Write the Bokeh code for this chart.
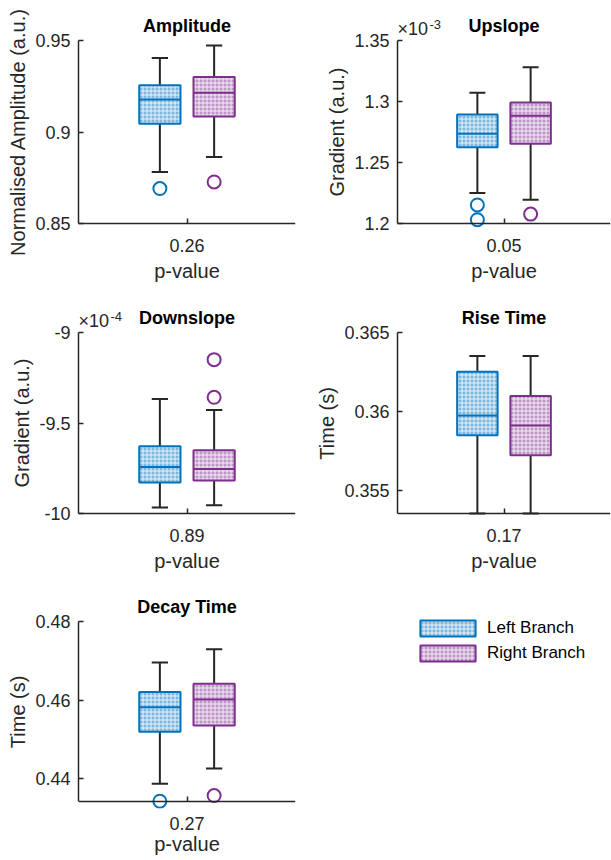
from bokeh.plotting import figure
from bokeh.layouts import gridplot
from bokeh.models import Range1d, FixedTicker, Legend, LegendItem, Title, LinearAxis
from bokeh.core.properties import value
from bokeh.embed import file_html
from bokeh.resources import INLINE

FONT = "Liberation Sans"
BLUE = "#0072BD"
PURPLE = "#7E2F8E"
DARK = "#262626"

# ---------------- data ----------------
titles = ["Amplitude", "Upslope", "Downslope", "Rise Time", "Decay Time"]
ylabels = ["Normalised Amplitude (a.u.)", "Gradient (a.u.)", "Gradient (a.u.)", "Time (s)", "Time (s)"]
p_values = ["0.26", "0.05", "0.89", "0.17", "0.27"]
series_names = ["Left Branch", "Right Branch"]

# five-number summaries: [lower whisker, Q1, median, Q3, upper whisker]
amp_left = [0.8782, 0.9045, 0.9178, 0.9255, 0.9405]
amp_right = [0.8864, 0.9085, 0.9215, 0.9300, 0.9473]
amp_left_out = [0.8691]
amp_right_out = [0.8727]

up_left = [1.2251, 1.2626, 1.2735, 1.2893, 1.3071]      # x 1e-3
up_right = [1.2194, 1.2653, 1.2883, 1.2992, 1.3281]
up_left_out = [1.2152, 1.2031]
up_right_out = [1.2077]

down_left = [-9.967, -9.829, -9.743, -9.629, -9.367]    # x 1e-4
down_right = [-9.954, -9.817, -9.754, -9.651, -9.428]
down_left_out = []
down_right_out = [-9.150, -9.358]

rise_left = [0.35358, 0.35851, 0.35977, 0.36253, 0.36352]
rise_right = [0.35358, 0.35726, 0.35914, 0.36100, 0.36352]
rise_left_out = []
rise_right_out = []

decay_left = [0.43874, 0.45196, 0.45819, 0.46206, 0.46956]
decay_right = [0.44261, 0.45356, 0.46013, 0.46417, 0.47293]
decay_left_out = [0.43427]
decay_right_out = [0.43571]

y_ranges = [(0.85, 0.95), (1.2, 1.35), (-10.0, -9.0), (0.35358, 0.365), (0.4342, 0.48)]
y_ticks = [[0.85, 0.9, 0.95], [1.2, 1.25, 1.3, 1.35], [-10, -9.5, -9],
           [0.355, 0.36, 0.365], [0.44, 0.46, 0.48]]
y_tick_labels = [["0.85", "0.9", "0.95"], ["1.2", "1.25", "1.3", "1.35"], ["-10", "-9.5", "-9"],
                 ["0.355", "0.36", "0.365"], ["0.44", "0.46", "0.48"]]
exponents = [None, "-3", "-4", None, None]

summaries = [(amp_left, amp_right), (up_left, up_right), (down_left, down_right),
             (rise_left, rise_right), (decay_left, decay_right)]
outliers = [(amp_left_out, amp_right_out), (up_left_out, up_right_out),
            (down_left_out, down_right_out), (rise_left_out, rise_right_out),
            (decay_left_out, decay_right_out)]

# ---------------- style / geometry ----------------
positions = [0.875, 1.125]
colors = [BLUE, PURPLE]
BOX_W = 0.19
CAP_W = 0.075
EXT_PX = 32          # frame space above the data area for title / exponent
BOT_PX = 7           # frame space below the x axis line (markers on the axis stay whole)
YLAB_SIZE = 20

# Arial/Liberation Sans advance widths (1/1000 em), used to centre the y labels on the data area
ARIAL_W = {"N": 722, "o": 556, "r": 333, "m": 833, "a": 556, "l": 222, "i": 222, "s": 500,
           "e": 556, "d": 556, " ": 278, "A": 667, "p": 556, "t": 278, "u": 556, "(": 333,
           ".": 278, ")": 333, "G": 778, "n": 556, "T": 611}


def text_len(s, size):
    return sum(ARIAL_W.get(ch, 556) for ch in s) * size / 1000.0


def box_style(color):
    return dict(fill_color=color, fill_alpha=0.5, hatch_pattern="+", hatch_color="white",
                hatch_alpha=0.8, hatch_scale=4, hatch_weight=1,
                line_color=color, line_width=2)


def style_axis(ax):
    ax.axis_line_color = DARK
    ax.axis_line_width = 1.5
    ax.major_tick_line_color = DARK
    ax.major_tick_line_width = 1.5
    ax.major_tick_in = 5
    ax.major_tick_out = 0
    ax.minor_tick_line_color = None
    ax.major_label_text_font = FONT
    ax.major_label_text_font_size = "18px"
    ax.major_label_text_color = DARK
    ax.axis_label_text_font = FONT
    ax.axis_label_text_font_size = "%dpx" % YLAB_SIZE
    ax.axis_label_text_font_style = "normal"
    ax.axis_label_text_color = DARK


def make_panel(i, width, height, bl, br, bt, bb, data_h, tick_sd, lab_sd):
    y0, y1 = y_ranges[i]
    dpp = (y1 - y0) / data_h
    p = figure(width=width, height=height, x_range=Range1d(0.5, 1.5),
               y_range=Range1d(y0 - BOT_PX * dpp, y1 + EXT_PX * dpp), output_backend="svg",
               toolbar_location=None,
               min_border_left=bl, min_border_right=br, min_border_top=bt, min_border_bottom=bb)
    p.outline_line_color = None
    p.grid.visible = False

    # x axis line + tick, fixed at the bottom of the data area
    xa = p.xaxis[0]
    style_axis(xa)
    xa.fixed_location = y0
    xa.ticker = FixedTicker(ticks=[1])
    xa.major_label_text_color = None
    xa.axis_label = None

    # x axis texts (p-value), in the panel below the frame
    xl = LinearAxis(ticker=FixedTicker(ticks=[1]), axis_label="p-value")
    style_axis(xl)
    xl.axis_line_color = None
    xl.major_tick_line_color = None
    xl.major_label_overrides = {1: p_values[i]}
    xl.major_label_standoff = tick_sd
    xl.axis_label_standoff = lab_sd
    p.add_layout(xl, "below")

    ya = p.yaxis[0]
    style_axis(ya)
    ya.bounds = (y0, y1)
    ya.ticker = FixedTicker(ticks=y_ticks[i])
    ya.major_label_overrides = {t: s for t, s in zip(y_ticks[i], y_tick_labels[i])}
    ya.major_label_standoff = 8

    # y label, centred on the data area (not on the extended frame)
    off = BOT_PX + (data_h - text_len(ylabels[i], YLAB_SIZE)) / 2.0
    p.add_layout(Title(text=ylabels[i], align="left", offset=off, standoff=8,
                       vertical_align="bottom",
                       text_font=FONT, text_font_size="%dpx" % YLAB_SIZE,
                       text_font_style="normal", text_color=DARK), "left")

    for k in range(2):
        lo, q1, med, q3, hi = summaries[i][k]
        x = positions[k]
        c = colors[k]
        p.segment(x0=[x, x], y0=[q3, q1], x1=[x, x], y1=[hi, lo], line_color=DARK, line_width=2)
        p.segment(x0=[x - CAP_W / 2] * 2, y0=[hi, lo], x1=[x + CAP_W / 2] * 2, y1=[hi, lo],
                  line_color=DARK, line_width=2)
        p.quad(left=[x - BOX_W / 2], right=[x + BOX_W / 2], bottom=[q1], top=[q3], **box_style(c))
        p.segment(x0=[x - BOX_W / 2], y0=[med], x1=[x + BOX_W / 2], y1=[med],
                  line_color=c, line_width=2)
        outs = outliers[i][k]
        if outs:
            p.scatter(x=[x] * len(outs), y=outs, marker="circle", size=13, fill_color=None,
                      line_color=c, line_width=2)

    # panel title (inside the extended frame, above the data area)
    p.text(x=[1.0], y=[y1 + 15 * dpp], text=[titles[i]], text_align="center",
           text_baseline="alphabetic", text_font=value(FONT), text_font_size=value("18px"),
           text_font_style="bold", text_color="black")

    if exponents[i]:
        p.text(x=[0.5], y=[y1 + 11.5 * dpp], text=["×10"], x_offset=0, text_align="left",
               text_baseline="alphabetic", text_font=value(FONT), text_font_size=value("18px"),
               text_color=DARK)
        p.text(x=[0.5], y=[y1 + 16 * dpp], text=[exponents[i]], x_offset=32, text_align="left",
               text_baseline="alphabetic", text_font=value(FONT), text_font_size=value("13px"),
               text_color=DARK)
    return p


W1, W2 = 303, 308
BL1, BL2 = 77, 94
BR1, BR2 = 8, 1
# rows (height, top border, bottom border, data height, tick standoff, label standoff)
# data tops at 40 / 332 / 621, data bottoms at 223 / 513 / 801
ROWS = [(292, 8, 69 - BOT_PX, 183, 15 - BOT_PX, 5),
        (289, 8, 68 - BOT_PX, 181, 15 - BOT_PX, 5),
        (279, 8, 59 - BOT_PX, 180, 15 - BOT_PX, 0)]

panels = []
idx = 0
for r, (h, bt, bb, dh, tsd, lsd) in enumerate(ROWS):
    row = []
    for c in range(2):
        if idx < 5:
            row.append(make_panel(idx, (W1, W2)[c], h, (BL1, BL2)[c], (BR1, BR2)[c],
                                  bt, bb, dh, tsd, lsd))
        idx += 1
    panels.append(row)

# legend panel (same borders as its row / column neighbours so the grid stays aligned)
h, bt, bb, dh, tsd, lsd = ROWS[2]
f6 = figure(width=W2, height=h, x_range=Range1d(0, 1), y_range=Range1d(0, 1),
            x_axis_type=None, y_axis_type=None, output_backend="svg", toolbar_location=None,
            min_border_left=BL2, min_border_right=BR2, min_border_top=bt, min_border_bottom=bb)
f6.outline_line_color = None
f6.grid.visible = False
items = []
for k in range(2):
    rr = f6.quad(left=[5], right=[6], bottom=[5], top=[6], **box_style(colors[k]))
    items.append(LegendItem(label=series_names[k], renderers=[rr]))
frame_h = h - bt - bb
leg_top = 618 - (581 + bt)          # legend top below the frame top, px
leg_h = 2 * 20 + 5
leg = Legend(items=items, location=(413 - (W1 + BL2), frame_h - leg_top - leg_h),
             glyph_width=69, glyph_height=20, label_height=20,
             label_text_font=FONT, label_text_font_size="17px", label_text_color="black",
             label_standoff=5, spacing=5, padding=0, margin=0,
             border_line_color=None, background_fill_alpha=0)
f6.add_layout(leg)
panels[2].append(f6)

grid = gridplot(panels, toolbar_location=None)

open("out.html", "w").write(file_html(grid, INLINE))
